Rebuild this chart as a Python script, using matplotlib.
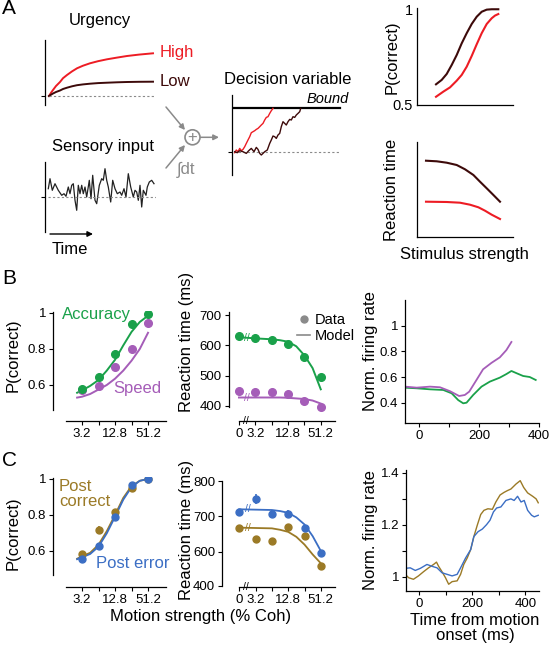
import numpy as np
import matplotlib
matplotlib.use('Agg')
import matplotlib.pyplot as plt
from matplotlib.patches import Circle
from matplotlib.lines import Line2D
from matplotlib.ticker import NullLocator
from matplotlib.transforms import blended_transform_factory

plt.rcParams['font.family'] = ['Liberation Sans', 'DejaVu Sans']

RED = '#ed1c24'
DARK = '#3d0a0a'
GREEN = '#1aa14a'
PURPLE = '#a55db8'
BLUE = '#3b6ec4'
BROWN = '#9b7a26'
GRAY = '#8a8a8a'

# ---------------- Panel A (schematic) ----------------
urg_t = [0, 2, 4, 7, 11, 14, 18, 23, 28, 34, 41, 49, 58, 68, 78, 90, 104]
urg_high = [0, 3.2, 6, 10, 14, 17.8, 21, 24.6, 27.7, 30.3, 32.7, 34.8, 36.7, 38.4, 40, 41.4, 42.7]
urg_low = [0, 1.3, 2.5, 4, 5.5, 7, 8.3, 9.7, 10.8, 11.6, 12.3, 12.9, 13.3, 13.7, 14, 14.2, 14.3]

sens_t = [3.3, 5, 7.3, 10, 13.3, 16.7, 19, 21, 23.3, 25, 26.7, 28.3, 30, 31.7, 33.3, 35,
          36.7, 38.3, 40, 41.7, 44.3, 46, 47.7, 50, 51.7, 54.3, 56.7, 58.3, 60, 61.7, 63.3,
          65.7, 67.7, 70, 72.3, 75, 76.7, 79, 81, 83.3, 85.7, 88.3, 90, 91.7, 93.3, 95,
          96.7, 98.3, 101, 102.3, 104.3, 106.7, 109]
sens_v = [8.3, 18.3, 6.7, 13.3, 6.7, 1.7, 3.3, 0.7, 10, 3.3, 11.7, 13.3, -3.3, -13.3, 11.7, 3.3,
          11.7, 3.3, 10, 0, 16.7, -1.7, 21.7, -3.3, -6.7, 11.7, 18.3, 16.7, 28.3, 16.7, 10,
          -5, 16.7, 8.3, 3.3, 5, 1.7, 8.3, 0, 23.3, 10, 0, 6.7, 5, -3.3, 11.7,
          -10, 6.7, 1.7, 10, 15, 16.7, 13.3]

dv_red_t = [2.7, 4.3, 6, 7.7, 9.3, 11, 12.7, 14.3, 16, 17.7, 19.3, 21, 22.7, 24.3, 26, 27.7,
            29.3, 31, 32.7, 34.3, 36, 37.7, 39.3, 41]
dv_red_v = [-1, 1.7, 0, 3.3, 1, 2.3, 5, 8.3, 11.7, 15, 19, 20, 21, 22.3, 23.3, 25,
            26.7, 28.3, 31.7, 34.3, 35, 38.3, 41, 43.3]
dv_dark_t = [2.7, 5.3, 7.7, 11, 14.3, 16.7, 19.3, 22, 24.3, 26, 27.7, 29.3, 31, 32.7, 35.3,
             37.7, 39.3, 41, 42.7, 44.3, 46, 47.7, 49.3, 51, 52.7, 54.3, 56, 57.7, 59.3, 61,
             62.7, 64.3, 66, 67.7, 68.7]
dv_dark_v = [0, -1, 1, 0, -1.7, 1, 3.3, 0, 4.3, 2.3, -1.7, -3.3, -1.7, 0, 1.7,
             8.3, 11.7, 15.7, 15, 13.3, 16.7, 18.3, 25, 30, 28.3, 26.7, 30, 32.3, 31.7, 35,
             34.3, 36.7, 38.3, 40, 43.3]
bound_level = 43.3

stim_x = [19.3, 25, 30, 35, 40, 45, 50, 55, 60, 65, 70, 75, 81.6]
pc_low_urg = [0.608, 0.631, 0.662, 0.709, 0.761, 0.822, 0.875, 0.923, 0.961, 0.987, 0.998, 1.0, 1.0]
stim_x_red = [19.3, 26.7, 33.3, 40, 45, 50, 55, 60, 65, 70, 75, 78.3, 81.6]
pc_high_urg = [0.543, 0.57, 0.592, 0.627, 0.657, 0.70, 0.756, 0.817, 0.875, 0.923, 0.953, 0.967, 0.975]
rt_x_dark = [9.3, 20, 30, 40, 48.3, 56.7, 63.3, 70, 76.7, 83.3]
rt_low_urg = [76.6, 76, 74.6, 72.3, 68, 62.3, 55.6, 49, 42.3, 35.6]
rt_x_red = [9.3, 30, 43.3, 53.3, 61.7, 68.3, 75, 83.3]
rt_high_urg = [35.6, 35.3, 34.6, 32.6, 30, 26.6, 22.6, 18.3]

# ---------------- Panel B ----------------
coh = [3.2, 6.4, 12.8, 25.6, 51.2]
coh_labels = ['3.2', '', '12.8', '', '51.2']
b_pc_acc = [0.58, 0.646, 0.772, 0.937, 0.994]
b_pc_spd = [0.57, 0.594, 0.698, 0.80, 0.943]
fit_coh = [2.6, 3.2, 4.5, 6.4, 9.05, 12.8, 18.1, 25.6, 36.2, 51.2]
b_fit_acc = [0.557, 0.57, 0.595, 0.628, 0.68, 0.74, 0.82, 0.895, 0.95, 0.985]
b_fit_spd = [0.53, 0.535, 0.55, 0.575, 0.60, 0.635, 0.68, 0.735, 0.80, 0.89]

rt_coh = [0, 3.2, 6.4, 12.8, 25.6, 51.2]
rt_coh_labels = ['0', '3.2', '', '12.8', '', '51.2']
b_rt_acc = [632, 623, 619, 603, 562, 496]
b_rt_spd = [449, 446, 445, 439, 415, 396]
model_coh = [0, 3.2, 6.4, 9.05, 12.8, 18.1, 25.6, 36.2, 51.2]
b_model_acc = [627, 623, 620, 617, 612, 597, 567, 525, 455]
b_model_spd = [428, 428, 428, 428, 427, 425, 423, 418, 408]

b_fr_spd_t = [-48, -9, 35.6, 68.9, 102, 133, 152, 166.7, 191, 213, 241, 269, 291, 307.8]
b_fr_spd = [0.525, 0.517, 0.525, 0.52, 0.49, 0.452, 0.46, 0.486, 0.577, 0.66, 0.71, 0.753, 0.81, 0.873]
b_fr_acc_t = [-48, -8.9, 35.6, 80, 108, 130, 146.7, 157.8, 180, 207.8, 235.6, 268.9, 291,
              307.8, 324.6, 346.9, 369, 389]
b_fr_acc = [0.517, 0.512, 0.504, 0.499, 0.473, 0.42, 0.395, 0.40, 0.46, 0.525, 0.564, 0.595,
            0.623, 0.647, 0.63, 0.608, 0.60, 0.577]

# ---------------- Panel C ----------------
c_pc_cor = [0.583, 0.717, 0.815, 0.948, 1.0]
c_pc_err = [0.554, 0.63, 0.79, 0.965, 1.0]
c_pc_cor_se = [0.015, 0.02, 0.015, 0.01, 0.005]
c_pc_err_se = [0.015, 0.015, 0.015, 0.01, 0.005]
c_fit_cor = [0.557, 0.57, 0.59, 0.635, 0.71, 0.80, 0.895, 0.96, 0.99, 1.0]
c_fit_err = [0.554, 0.565, 0.583, 0.624, 0.698, 0.79, 0.885, 0.955, 0.99, 1.0]

c_rt_cor = [666, 636, 631, 669, 645, 558]
c_rt_err = [711, 749, 708, 708, 667, 596]
c_rt_cor_se = [9, 9, 9, 9, 9, 8]
c_rt_err_se = [10, 14, 10, 10, 8, 8]
c_model_cor = [668, 667, 666, 662, 656, 642, 620, 592, 567]
c_model_err = [720, 719, 718, 715, 710, 697, 677, 644, 602]

c_fr_cor_t = [-53, -40, -22, -3, 16, 35, 54, 65, 73, 86, 99, 111, 124, 143, 156, 168, 181, 194,
              206, 219, 232, 244, 259, 276, 289, 305, 320, 333, 346, 365, 381, 394, 409, 428,
              441, 449]
c_fr_cor = [1.009, 0.996, 0.99, 1.003, 1.019, 1.034, 1.047, 1.056, 1.04, 1.019, 0.996, 0.971,
            0.981, 0.984, 1.009, 1.047, 1.072, 1.104, 1.154, 1.198, 1.239, 1.255, 1.261, 1.259,
            1.287, 1.314, 1.324, 1.331, 1.337, 1.356, 1.369, 1.343, 1.322, 1.309, 1.299, 1.284]
c_fr_err_t = [-53, -34, -15, 4, 29, 48, 67, 86, 105, 124, 143, 156, 175, 194, 206, 222, 238,
              254, 267, 280, 292, 308, 327, 346, 358, 371, 384, 396, 409, 424, 434, 449]
c_fr_err = [1.032, 1.034, 1.024, 1.032, 1.047, 1.04, 1.034, 1.015, 1.009, 1.003, 1.009, 1.034,
            1.072, 1.104, 1.154, 1.173, 1.183, 1.2, 1.217, 1.249, 1.264, 1.268, 1.293, 1.299,
            1.293, 1.309, 1.287, 1.293, 1.255, 1.236, 1.23, 1.236]

W, H = 549, 648
fig = plt.figure(figsize=(W / 100, H / 100), dpi=100)


def px_axes(x0, y0, x1, y1):
    return fig.add_axes([x0 / W, 1 - y1 / H, (x1 - x0) / W, (y1 - y0) / H])


def style(ax, left=True, bottom=True):
    for s in ['top', 'right']:
        ax.spines[s].set_visible(False)
    ax.spines['left'].set_visible(left)
    ax.spines['bottom'].set_visible(bottom)
    for s in ['left', 'bottom']:
        ax.spines[s].set_linewidth(0.9)
    ax.patch.set_alpha(0)
    ax.tick_params(direction='out', length=3, width=0.8, labelsize=9.5, pad=2)


def rt_pos(c):
    c = np.asarray(c, float)
    return np.where(c > 0, np.log2(np.maximum(c, 1e-9) / 1.6), 0.0)


# ---- A: urgency
ax = px_axes(45, 40, 156, 105)
style(ax, bottom=False)
ax.set_xlim(-4, 107)
ax.set_ylim(-9, 56)
ax.plot(urg_t, urg_high, color=RED, lw=1.4)
ax.plot(urg_t, urg_low, color=DARK, lw=1.4)
ax.axhline(0, xmin=4 / 111, color=GRAY, ls=(0, (2, 2)), lw=0.8)
ax.set_xticks([])
ax.set_yticks([0])
ax.set_yticklabels([])

# ---- A: sensory input
ax = px_axes(45, 162, 156, 232)
style(ax, bottom=False)
ax.set_xlim(0, 111)
ax.set_ylim(-35, 35)
ax.plot(sens_t, sens_v, color='#222222', lw=0.9)
ax.axhline(0, xmin=3 / 111, color=GRAY, ls=(0, (2, 2)), lw=0.8)
ax.set_xticks([])
ax.set_yticks([0])
ax.set_yticklabels([])

# ---- A: decision variable
ax = px_axes(232, 95, 345, 175)
style(ax, bottom=False)
ax.set_xlim(0, 113)
ax.set_ylim(-23.3, 56.7)
ax.axhline(0, xmin=2 / 113, xmax=108 / 113, color=GRAY, ls=(0, (2, 2)), lw=0.8)
ax.axhline(bound_level, xmin=2 / 113, xmax=108 / 113, color='black', lw=1.6)
ax.plot(dv_red_t, dv_red_v, color=RED, lw=1.0)
ax.plot(dv_dark_t, dv_dark_v, color=DARK, lw=1.0)
ax.set_xticks([])
ax.set_yticks([0])
ax.set_yticklabels([])

# ---- A: P(correct)
ax = px_axes(416.7, 8.3, 512.7, 105)
style(ax)
ax.set_xlim(0, 96)
ax.set_ylim(0.5, 1.005)
ax.plot(stim_x, pc_low_urg, color=DARK, lw=1.5)
ax.plot(stim_x_red, pc_high_urg, color=RED, lw=1.5)
ax.set_xticks([])
ax.set_yticks([0.5, 1])
ax.set_yticklabels(['0.5', '1'])
ax.tick_params(axis='y', length=0, labelsize=10.5, pad=3)

# ---- A: reaction time
ax = px_axes(416.7, 141.7, 512.7, 237.3)
style(ax)
ax.set_xlim(0, 96)
ax.set_ylim(0, 95.6)
ax.plot(rt_x_dark, rt_low_urg, color=DARK, lw=1.5)
ax.plot(rt_x_red, rt_high_urg, color=RED, lw=1.5)
ax.set_xticks([])
ax.set_yticks([])


def pc_axes(y_top, y_bot, ylim_lo, spine_lo):
    ax = px_axes(53, y_top, 166, y_bot)
    style(ax)
    ax.set_xscale('log', base=2)
    ax.set_xlim(0.944, 109)
    ax.set_ylim(ylim_lo, 1.011)
    ax.spines['left'].set_bounds(spine_lo, 1.007)
    ax.spines['bottom'].set_bounds(1.64, 109)
    ax.set_xticks(coh)
    ax.set_xticklabels(coh_labels)
    ax.xaxis.set_minor_locator(NullLocator())
    ax.set_yticks([0.6, 0.8, 1])
    ax.set_yticklabels(['0.6', '0.8', '1'])
    return ax


def rt_axes(x_left, y_top, y_bot, xlim_lo, ylim, spine_y):
    ax = px_axes(x_left, y_top, 335, y_bot)
    style(ax)
    ax.set_xlim(xlim_lo, 5.87)
    ax.set_ylim(*ylim)
    ax.spines['left'].set_bounds(*spine_y)
    ax.spines['bottom'].set_bounds(0, 5.87)
    ax.set_xticks(rt_pos(rt_coh))
    ax.set_xticklabels(rt_coh_labels)
    tr = blended_transform_factory(ax.transData, ax.transAxes)
    ax.text(0.4, 0, '//', transform=tr, ha='center', va='center', fontsize=7.5)
    return ax


def brk(ax, mc, mv, color):
    ax.text(0.5, np.interp(0.5, rt_pos(mc), mv), '//', ha='center', va='center',
            fontsize=7.5, color=color)


# ---- B: P(correct)
ax = pc_axes(311, 421, 0.4, 0.46)
ax.plot(fit_coh, b_fit_spd, color=PURPLE, lw=1.4)
ax.plot(fit_coh, b_fit_acc, color=GREEN, lw=1.4)
ax.plot(coh, b_pc_spd, 'o', color=PURPLE, ms=5.5)
ax.plot(coh, b_pc_acc, 'o', color=GREEN, ms=5.5)

# ---- B: reaction time
ax = rt_axes(228.5, 312, 421, -0.64, (350.5, 710), (397, 710))
ax.plot(rt_pos(model_coh), b_model_acc, color=GREEN, lw=1.4)
ax.plot(rt_pos(model_coh), b_model_spd, color=PURPLE, lw=1.4)
ax.plot(rt_pos(rt_coh), b_rt_acc, 'o', color=GREEN, ms=5.5)
ax.plot(rt_pos(rt_coh), b_rt_spd, 'o', color=PURPLE, ms=5.5)
brk(ax, model_coh, b_model_acc, GREEN)
brk(ax, model_coh, b_model_spd, PURPLE)
ax.set_yticks([400, 500, 600, 700])
handles = [Line2D([], [], marker='o', ls='none', color=GRAY, ms=5),
           Line2D([], [], color=GRAY, lw=1.2)]
ax.legend(handles, ['Data', 'Model'], frameon=False, fontsize=10.5, handlelength=0.9,
          handletextpad=0.3, labelspacing=0.1, borderpad=0, loc='upper left',
          bbox_to_anchor=(290 / W, 1 - 306 / H), bbox_transform=fig.transFigure)

# ---- B: firing rate
ax = px_axes(405, 300, 539, 422.7)
style(ax)
ax.set_xlim(-48, 400)
ax.set_ylim(0.244, 1.2)
ax.plot(b_fr_acc_t, b_fr_acc, color=GREEN, lw=1.3)
ax.plot(b_fr_spd_t, b_fr_spd, color=PURPLE, lw=1.3)
ax.set_xticks([0, 100, 200, 300, 400])
ax.set_xticklabels(['0', '', '200', '', '400'])
ax.set_yticks([0.4, 0.6, 0.8, 1])
ax.set_yticklabels(['0.4', '0.6', '0.8', '1'])

# ---- C: P(correct)
ax = pc_axes(477, 587.3, 0.398, 0.467)
ax.plot(fit_coh, c_fit_cor, color=BROWN, lw=1.3)
ax.plot(fit_coh, c_fit_err, color=BLUE, lw=1.3)
ax.errorbar(coh, c_pc_cor, yerr=c_pc_cor_se, fmt='o', color=BROWN, ms=5, elinewidth=1.2, capsize=0)
ax.errorbar(coh, c_pc_err, yerr=c_pc_err_se, fmt='o', color=BLUE, ms=5, elinewidth=1.2, capsize=0)

# ---- C: reaction time
ax = rt_axes(222, 480, 587.3, -1.06, (499, 803), (503, 800))
ax.plot(rt_pos(model_coh), c_model_err, color=BLUE, lw=1.3)
ax.plot(rt_pos(model_coh), c_model_cor, color=BROWN, lw=1.3)
ax.errorbar(rt_pos(rt_coh), c_rt_cor, yerr=c_rt_cor_se, fmt='o', color=BROWN, ms=5,
            elinewidth=1.2, capsize=0)
ax.errorbar(rt_pos(rt_coh), c_rt_err, yerr=c_rt_err_se, fmt='o', color=BLUE, ms=5,
            elinewidth=1.2, capsize=0)
brk(ax, model_coh, c_model_err, BLUE)
brk(ax, model_coh, c_model_cor, BROWN)
ax.set_yticks([503, 600, 700, 800])
ax.set_yticklabels(['400', '600', '700', '800'])

# ---- C: firing rate
ax = px_axes(406, 470, 539.3, 591)
style(ax)
ax.set_xlim(-50, 453)
ax.set_ylim(0.945, 1.41)
ax.plot(c_fr_cor_t, c_fr_cor, color=BROWN, lw=1.0)
ax.plot(c_fr_err_t, c_fr_err, color=BLUE, lw=1.0)
ax.set_xticks([0, 100, 200, 300, 400])
ax.set_xticklabels(['0', '', '200', '', '400'])
ax.set_yticks([1, 1.1, 1.2, 1.3, 1.4])
ax.set_yticklabels(['1', '', '1.2', '', '1.4'])

# ---------------- overlay: labels, arrows, text ----------------
ov = fig.add_axes([0, 0, 1, 1])
ov.set_xlim(0, W)
ov.set_ylim(H, 0)
ov.axis('off')
ov.patch.set_alpha(0)


def T(x, y, s, **kw):
    kw.setdefault('fontsize', 12)
    kw.setdefault('va', 'center')
    ov.text(x, y, s, **kw)


T(2, 8, 'A', fontsize=15)
T(2, 279, 'B', fontsize=15)
T(2, 460, 'C', fontsize=15)

T(100, 20, 'Urgency', ha='center')
T(160, 53, 'High', color=RED)
T(160, 82, 'Low', color=DARK)
T(52, 147, 'Sensory input')
T(52, 249, 'Time')
T(224, 80, 'Decision variable')
T(349, 99, 'Bound', ha='right', style='italic', fontsize=10.5)
T(177, 170, '\u222bdt', color=GRAY, fontsize=12)
ov.add_patch(Circle((192.5, 137.3), 7.5, fill=False, ec=GRAY, lw=1.2))
T(192.5, 137.3, '+', ha='center', color=GRAY, fontsize=12)
arrow = dict(arrowstyle='-|>', color=GRAY, lw=1.1, mutation_scale=8, shrinkA=0, shrinkB=0)
ov.annotate('', xy=(185, 130), xytext=(166, 107), arrowprops=arrow)
ov.annotate('', xy=(185, 145), xytext=(166, 168), arrowprops=arrow)
ov.annotate('', xy=(219, 137.3), xytext=(200.5, 137.3), arrowprops=arrow)
ov.annotate('', xy=(93, 234), xytext=(50, 234),
            arrowprops=dict(arrowstyle='-|>', color='black', lw=1, mutation_scale=8,
                            shrinkA=0, shrinkB=0))

T(392, 57, 'P(correct)', ha='center', rotation=90)
T(392, 190, 'Reaction time', ha='center', rotation=90)
T(464, 255, 'Stimulus strength', ha='center')

T(62, 314, 'Accuracy', color=GREEN)
T(113, 388, 'Speed', color=PURPLE)
T(13, 355, 'P(correct)', ha='center', rotation=90)
T(187, 342, 'Reaction time (ms)', ha='center', rotation=90)
T(370, 351, 'Norm. firing rate', ha='center', rotation=90)

T(59, 494, 'Post\ncorrect', color=BROWN, linespacing=1.05)
T(96, 564, 'Post error', color=BLUE)
T(13, 533, 'P(correct)', ha='center', rotation=90)
T(187, 530, 'Reaction time (ms)', ha='center', rotation=90)
T(370, 530, 'Norm. firing rate', ha='center', rotation=90)
T(201, 617, 'Motion strength (% Coh)', ha='center')
T(475, 628, 'Time from motion\nonset (ms)', ha='center', linespacing=1.05)

fig.savefig('out.png', dpi=100)
